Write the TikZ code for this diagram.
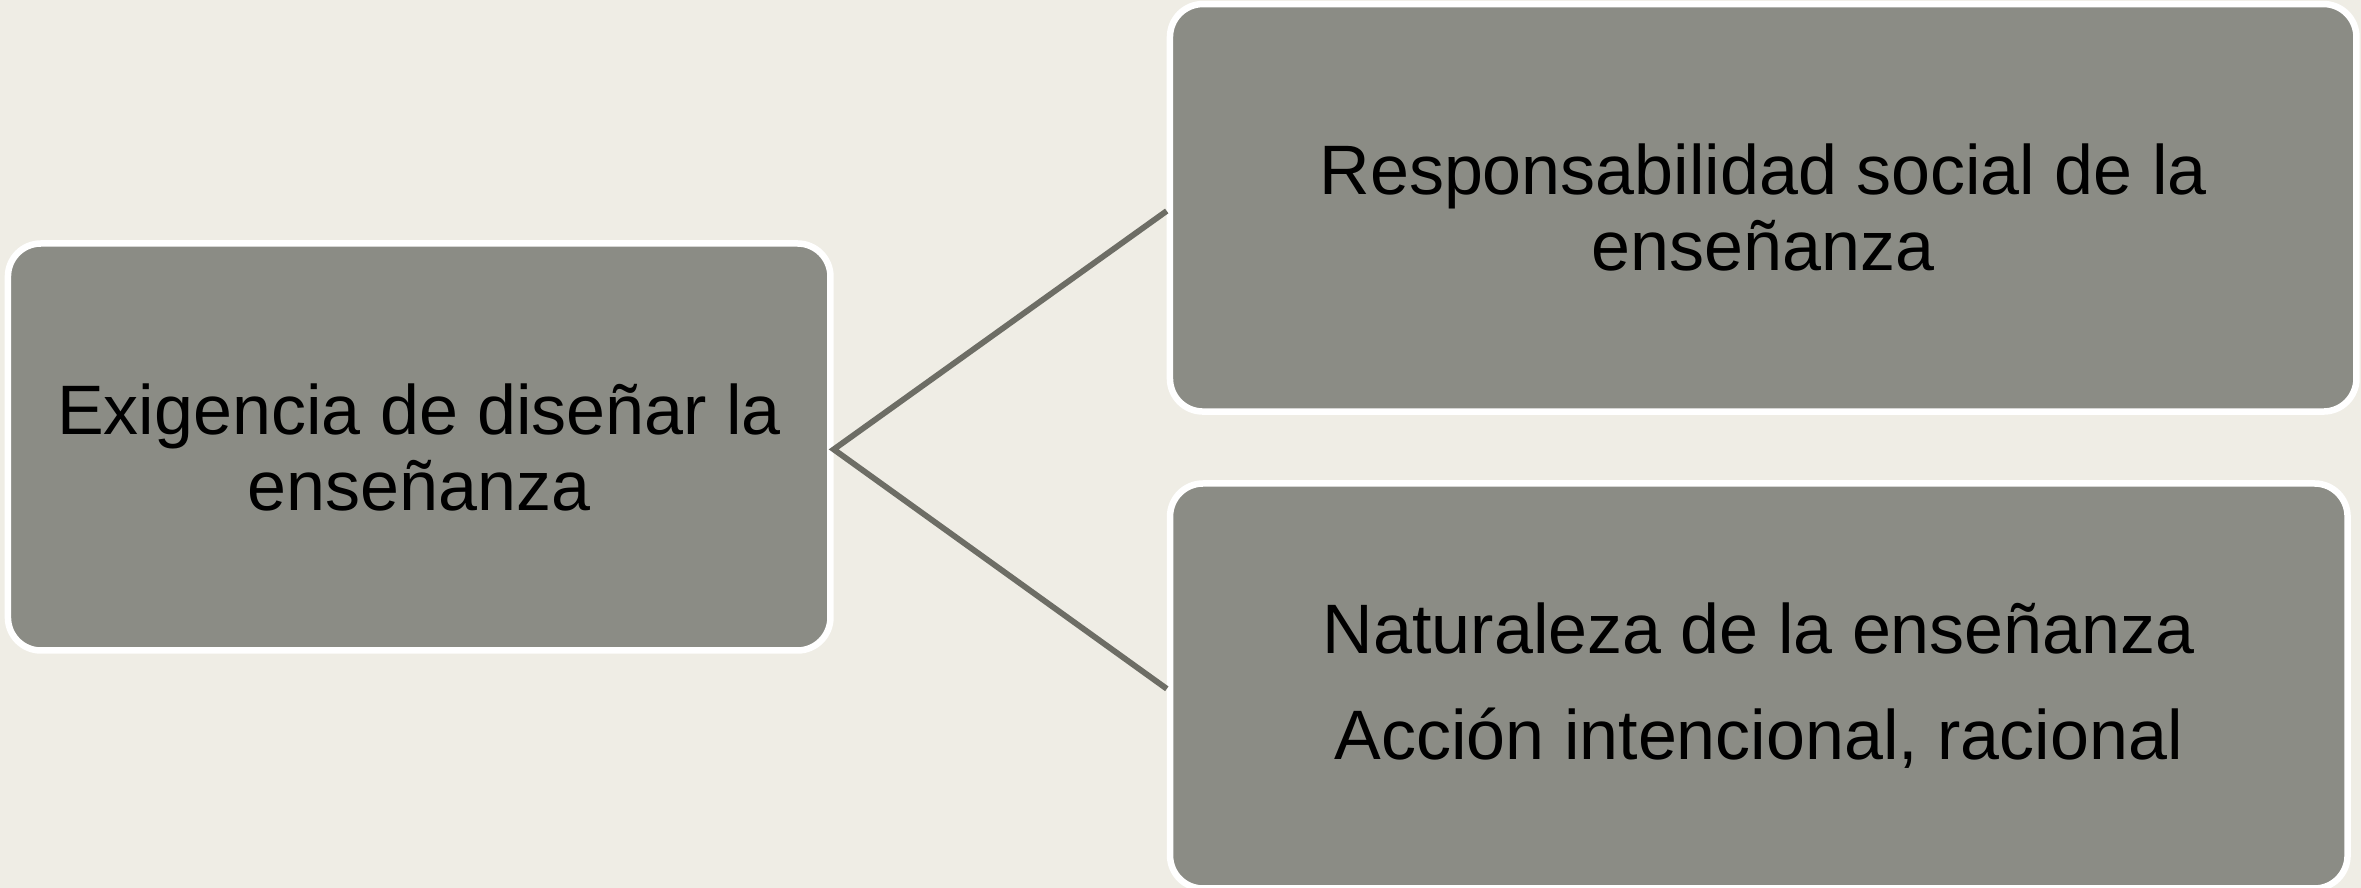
\documentclass[tikz,border=0pt]{standalone}
\usepackage{fontspec}
\setmainfont{Liberation Sans}
\definecolor{bg}{HTML}{EFEDE5}
\definecolor{boxfill}{HTML}{8B8C85}
\definecolor{linkc}{HTML}{6D6D65}
\begin{document}
\begin{tikzpicture}[x=1pt,y=1pt,
  box/.style={rectangle, rounded corners=16.5pt, fill=boxfill, draw=white,
    line width=3.25pt, align=center, inner sep=0pt,
    font=\fontsize{35}{38}\selectfont},
  link/.style={draw=linkc, line width=2.9pt, line join=miter}]
\fill[bg] (0,0) rectangle (1180.5,444);
\useasboundingbox (0,0) rectangle (1180.5,444);
\node[box, minimum width=411.25pt, minimum height=203.5pt] (L) at (209.6,220.5)
  {Exigencia de diseñar la\\enseñanza};
\node[box, minimum width=593.25pt, minimum height=203.75pt] (TR) at (881.6,340.1)
  {Responsabilidad social de la\\enseñanza};
\node[box, minimum width=588.75pt, minimum height=202.5pt] (BR) at (879.4,101)
  {Naturaleza de la enseñanza\\[15pt]Acción intencional, racional};
\draw[link] ([yshift=-1.6pt]TR.west) -- ([yshift=-1.2pt]L.east) -- ([yshift=-1.4pt]BR.west);
\end{tikzpicture}
\end{document}
